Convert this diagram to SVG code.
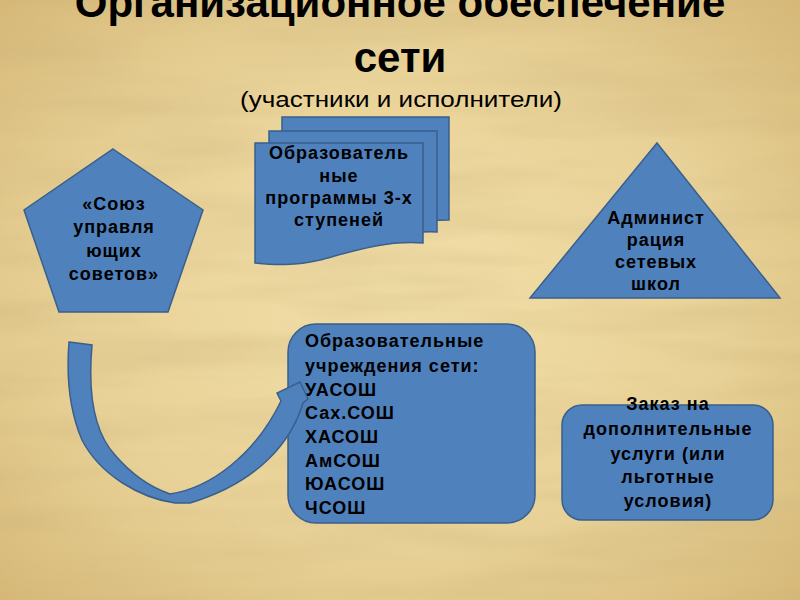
<svg xmlns="http://www.w3.org/2000/svg" width="800" height="600" viewBox="0 0 800 600">
<defs>
<radialGradient id="bg" cx="50%" cy="50%" r="70%">
<stop offset="0" stop-color="#f2dfa9"/>
<stop offset="0.6" stop-color="#e8d196"/>
<stop offset="1" stop-color="#d6b979"/>
</radialGradient>
<filter id="paper" x="0" y="0" width="100%" height="100%">
<feTurbulence type="fractalNoise" baseFrequency="0.004 0.03" numOctaves="3" seed="7"/>
<feColorMatrix type="matrix" values="0 0 0 0 0.6  0 0 0 0 0.45  0 0 0 0 0.2  0 0 0 1.4 -0.55"/>
</filter>
<style>
.shape{fill:#4f81bd;stroke:#3a5f8c;stroke-width:1.5}
.t{font-family:"Liberation Sans",Arial,sans-serif;font-weight:bold;font-size:18px;fill:#000;letter-spacing:1px}
.c{text-anchor:middle}
.title{font-family:"Liberation Sans",Arial,sans-serif;font-weight:bold;font-size:42px;fill:#000;text-anchor:middle}
.sub{font-family:"Liberation Sans",Arial,sans-serif;font-size:22px;fill:#000;text-anchor:middle}
</style>
</defs>
<rect width="800" height="600" fill="url(#bg)"/>
<rect width="800" height="600" filter="url(#paper)" opacity="0.5"/>

<g id="title">
<text class="title" x="400" y="17">Организационное обеспечение</text>
<text class="title" x="400" y="72">сети</text>
<text class="sub" x="401" y="107" textLength="322" lengthAdjust="spacingAndGlyphs">(участники и исполнители)</text>
</g>

<g id="union">
<polygon class="shape" points="113,149 203,210 168,312 59,312 24,210"/>
<text class="t c" x="114" y="210">«Союз</text>
<text class="t c" x="114" y="233">управля</text>
<text class="t c" x="114" y="257">ющих</text>
<text class="t c" x="114" y="280">советов»</text>
</g>

<g id="programs">
<path class="shape" d="M282,117 H449 V220 C430,220 425,222 412,226 L282,226 Z"/>
<path class="shape" d="M269,131 H437 V232 C415,231 405,235 395,238 L269,240 Z"/>
<path class="shape" d="M255,143 H423 V243 C385,240 350,252 320,260 C295,266 275,265 255,263 Z"/>
<text class="t c" x="339" y="159">Образователь</text>
<text class="t c" x="339" y="182">ные</text>
<text class="t c" x="339" y="204">программы 3-х</text>
<text class="t c" x="339" y="226">ступеней</text>
</g>

<g id="admin">
<polygon class="shape" points="657,143 780,298 530,298"/>
<text class="t c" x="656" y="224">Админист</text>
<text class="t c" x="656" y="246">рация</text>
<text class="t c" x="656" y="268">сетевых</text>
<text class="t c" x="656" y="290">школ</text>
</g>

<g id="schools">
<rect class="shape" x="288" y="324" width="247" height="199" rx="28" ry="28"/>
<text class="t" x="305" y="347">Образовательные</text>
<text class="t" x="305" y="372">учреждения сети:</text>
<text class="t" x="305" y="396">УАСОШ</text>
<text class="t" x="305" y="419">Сах.СОШ</text>
<text class="t" x="305" y="443">ХАСОШ</text>
<text class="t" x="305" y="467">АмСОШ</text>
<text class="t" x="305" y="490">ЮАСОШ</text>
<text class="t" x="305" y="514">ЧСОШ</text>
</g>

<g id="order">
<rect class="shape" x="562" y="405" width="211" height="115" rx="20" ry="20"/>
<text class="t c" x="668" y="410">Заказ на</text>
<text class="t c" x="668" y="435">дополнительные</text>
<text class="t c" x="668" y="460">услуги (или</text>
<text class="t c" x="668" y="483">льготные</text>
<text class="t c" x="668" y="507">условия)</text>
</g>

<g id="connectors">
<path class="shape" d="M69,342 L92,345 C88,390 92,430 115,455 C132,475 150,487 170,494 C210,488 255,455 281,401 L277,393 L300,382 L308,399 L303,403 C292,440 260,482 190,503 L175,503 C140,498 100,475 82,440 C70,412 66,380 69,342 Z"/>
</g>
</svg>
